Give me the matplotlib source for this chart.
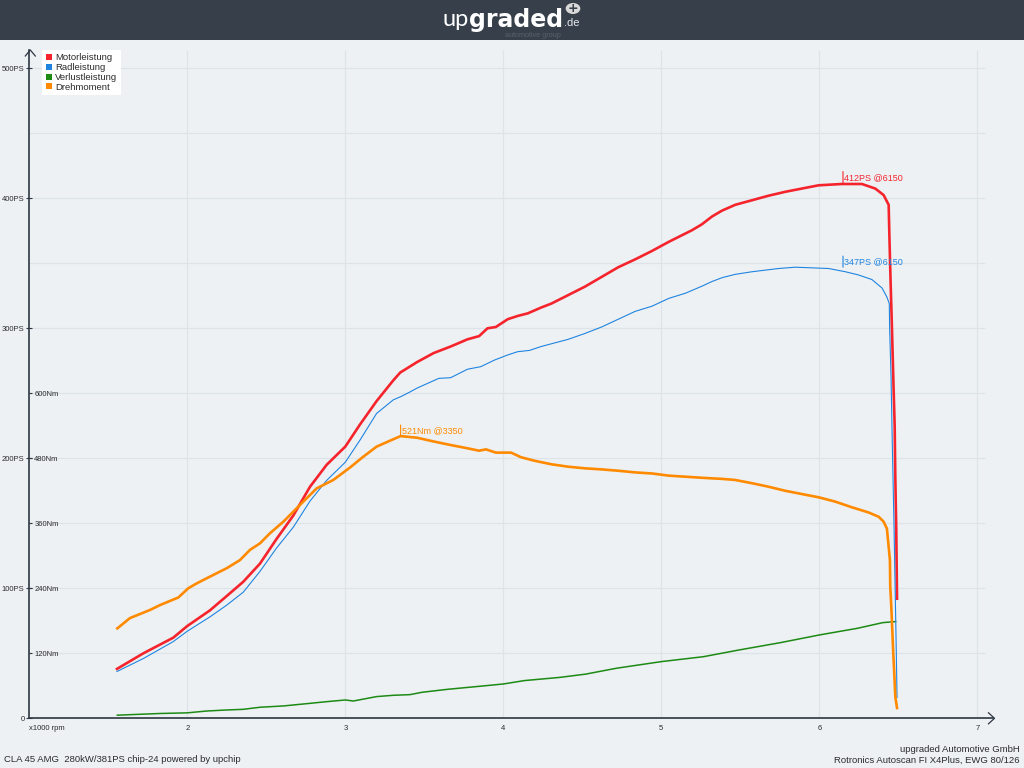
import matplotlib
matplotlib.use("Agg")
import matplotlib.pyplot as plt
from matplotlib.lines import Line2D
from matplotlib.patches import Rectangle, Circle

# ---------------------------------------------------------------- data
motor_rpm = [1555, 1722, 1911, 2000, 2143, 2249, 2354, 2460, 2565, 2671,
             2776, 2882, 3000, 3093, 3198, 3304, 3348, 3454, 3560, 3667,
             3773, 3847, 3900, 3953, 4028, 4091, 4155, 4240, 4304, 4410,
             4516, 4622, 4728, 4834, 4941, 5047, 5195, 5257, 5321, 5384,
             5468, 5574, 5679, 5785, 5890, 5996, 6143, 6270, 6354, 6407,
             6439, 6443, 6451, 6460, 6468, 6477, 6481, 6487, 6492]
motor_ps = [38, 50, 62, 71, 83, 94, 105, 119, 138, 156,
            178, 195, 209, 226, 244, 260, 266, 274, 281, 286,
            291.5, 294, 300, 301, 307, 309.5, 311.5, 316, 319, 325.5,
            332, 339.5, 347, 353, 359.5, 366.5, 375.5, 380, 386, 390.5,
            395, 398.5, 402, 405, 407.5, 410, 411, 411, 407.5, 402.5,
            395, 374, 337, 299, 263, 225, 186, 145, 92]

wheel_rpm = [1555, 1722, 1911, 2000, 2143, 2249, 2354, 2460, 2565, 2671,
             2776, 2882, 3000, 3093, 3198, 3304, 3352, 3409, 3454, 3592,
             3667, 3773, 3858, 3943, 4028, 4091, 4166, 4240, 4410, 4516,
             4622, 4728, 4834, 4941, 5047, 5153, 5259, 5321, 5386, 5468,
             5574, 5743, 5848, 6059, 6165, 6249, 6333, 6397, 6428, 6443,
             6445, 6454, 6460, 6466, 6473, 6480, 6486, 6492]
wheel_ps = [36, 46, 59, 67, 78, 87, 97, 113, 131, 147,
            167, 183, 197, 214, 234.5, 245, 247.5, 251, 254, 261.5,
            262, 268.5, 270.5, 275.5, 279.5, 282, 283, 286, 291.5, 296,
            301, 307, 313, 317, 323, 327, 332.5, 336, 339, 341.5,
            343.5, 346, 347, 346, 343.5, 341, 337.5, 331, 324, 319,
            301, 263, 224, 188, 147, 100, 60, 16]

loss_rpm = [1557, 1827, 2000, 2122, 2249, 2354, 2460, 2608, 2776, 2882,
            3000, 3051, 3198, 3304, 3409, 3485, 3647, 3874, 4000, 4133,
            4360, 4522, 4716, 5000, 5267, 5494, 5754, 6000, 6240, 6402,
            6483]
loss_ps = [2.4, 3.7, 4.2, 5.6, 6.4, 6.9, 8.5, 9.5, 11.5, 12.8,
           14.1, 13.3, 16.7, 17.7, 18.2, 20, 22.3, 24.9, 26.4, 29,
           31.5, 34, 38.5, 43.6, 47.4, 52.6, 58.2, 64.1, 69.2, 73.6,
           74.4]

torque_rpm = [1557, 1637, 1764, 1827, 1943, 2006, 2059, 2143, 2249, 2333,
              2397, 2460, 2523, 2608, 2671, 2734, 2819, 2924, 3030, 3114,
              3198, 3283, 3350, 3454, 3560, 3667, 3773, 3847, 3890, 3953,
              4049, 4112, 4197, 4304, 4410, 4516, 4622, 4728, 4834, 4941,
              5047, 5153, 5259, 5384, 5468, 5574, 5679, 5785, 5890, 5996,
              6101, 6207, 6312, 6376, 6407, 6428, 6447, 6449, 6456, 6462,
              6468, 6475, 6481, 6492]
torque_nm = [166, 185, 200, 209, 223, 240, 249, 261.5, 277, 292,
             311, 323, 341.5, 363, 381.5, 400, 424.5, 440, 463, 483,
             501.5, 512.5, 521, 518, 511, 504.5, 498.5, 494, 496.5, 490.5,
             490.5, 482, 475.5, 469, 464.5, 461.5, 459.5, 457, 454, 452,
             448, 446, 444, 442, 440, 434, 427.5, 420, 414, 408,
             400, 389.5, 380, 372, 363, 350, 292, 244, 204, 163,
             121, 80, 40, 19]

series_names = ["Motorleistung", "Radleistung", "Verlustleistung", "Drehmoment"]
series_colors = ["#f5242c", "#1f84e0", "#1d8a14", "#ff8a00"]

ps_ticks = [0, 100, 200, 300, 400, 500]
ps_tick_labels = ["0", "100PS", "200PS", "300PS", "400PS", "500PS"]
nm_ticks = [120, 240, 360, 480, 600]
nm_tick_labels = ["120Nm", "240Nm", "360Nm", "480Nm", "600Nm"]
rpm_ticks = [1000, 2000, 3000, 4000, 5000, 6000, 7000]
rpm_tick_labels = ["x1000 rpm", "2", "3", "4", "5", "6", "7"]

peak_texts = ["412PS @6150", "347PS @6150", "521Nm @3350"]
peak_rpm = [6150, 6150, 3350]
peak_value = [412, 347, 521]

vehicle_text = "CLA 45 AMG  280kW/381PS chip-24 powered by upchip"
company_text = "upgraded Automotive GmbH"
bench_text = "Rotronics Autoscan FI X4Plus, EWG 80/126"

# ---------------------------------------------------------------- layout
W, H, DPI = 1024, 768, 100
BG = "#edf1f4"
AXIS = "#2e3742"
GRID = "#dde3e8"
TXT = "#2b2b2b"
FONT = ["Liberation Sans", "DejaVu Sans"]

fig = plt.figure(figsize=(W / DPI, H / DPI), dpi=DPI)
fig.patch.set_facecolor(BG)


def fig_box(left, top, width, height):
    return [left / W, 1 - (top + height) / H, width / W, height / H]


def fxy(x, y):
    return x / W, 1 - y / H


# header bar with logo
fig.add_artist(Rectangle((0, 1 - 40 / H), 1, 40 / H, transform=fig.transFigure,
                         facecolor="#363f4a", edgecolor="none", zorder=0))
renderer = fig.canvas.get_renderer()
LOGO_BASE = 26.5
t_up = fig.text(*fxy(442, LOGO_BASE), "up", color="#ffffff", fontsize=17,
                family=["Lato", "DejaVu Sans"], fontweight="normal",
                ha="left", va="baseline")
bb = t_up.get_window_extent(renderer)
t_gr = fig.text(bb.x1 / W + 1 / W, 1 - LOGO_BASE / H, "graded", color="#ffffff",
                fontsize=17, family=["DejaVu Sans"], fontweight="bold",
                ha="left", va="baseline")
bb2 = t_gr.get_window_extent(renderer)
fig.text(bb2.x1 / W + 1 / W, 1 - LOGO_BASE / H, ".de", color="#e8ebee",
         fontsize=8, family=FONT, ha="left", va="baseline")
fig.add_artist(Circle(fxy(573, 8.5), 5.5 / H, transform=fig.transFigure,
                      facecolor="#d9d9d9", edgecolor="none"))
fig.text(*fxy(573, 8.8), "+", color="#363f4a", fontsize=9, fontweight="bold",
         family=["DejaVu Sans"], ha="center", va="center")
fig.text(*fxy(533, 35.5), "automotive group", color="#59636e", fontsize=5.2,
         family=FONT, ha="center", va="center")

# plotting area
ax = fig.add_axes(fig_box(29.3, 50.1, 963.8, 668.2))
ax.set_facecolor("none")
ax.set_xlim(1000, 7100)
ax.set_ylim(0, 514)
ax2 = ax.twinx()
ax2.set_ylim(0, 514 * 2.4)

for s in ["top", "right"]:
    ax.spines[s].set_visible(False)
for s in ["top", "bottom", "left"]:
    ax2.spines[s].set_visible(False)
ax2.spines["right"].set_position(("axes", 0))
ax2.spines["right"].set_visible(False)
for s in ["left", "bottom"]:
    ax.spines[s].set_color(AXIS)
    ax.spines[s].set_linewidth(1.2)

# grid
ax.hlines(range(50, 501, 50), 1000, 7050, color=GRID, lw=0.9, zorder=0)
ax.vlines(rpm_ticks[1:], 0, 514, color=GRID, lw=0.9, zorder=0)

# ticks
ax.set_yticks(ps_ticks)
ax.set_yticklabels(ps_tick_labels)
ax.tick_params(axis="y", direction="inout", length=4.8, width=0.8, color=AXIS,
               labelsize=5.5, labelcolor=TXT, pad=1)
ax.set_xticks(rpm_ticks)
ax.set_xticklabels(rpm_tick_labels)
ax.tick_params(axis="x", direction="out", length=0, labelsize=5.5,
               labelcolor=TXT, pad=5)
ax.get_xticklabels()[0].set_ha("left")
ax2.set_yticks(nm_ticks)
ax2.set_yticklabels(nm_tick_labels)
ax2.tick_params(axis="y", direction="out", length=2, width=0.8, color=AXIS,
                labelsize=5.5, labelcolor=TXT, pad=1.5)
for lab in ax.get_xticklabels() + ax.get_yticklabels() + ax2.get_yticklabels():
    lab.set_family(FONT)

# axis arrow heads
for xs, ys in [([25.3, 30.3, 35.3], [56, 50, 56]),
               ([988.5, 994.5, 988.5], [712.8, 718.3, 723.8])]:
    fig.add_artist(Line2D([x / W for x in xs], [1 - y / H for y in ys],
                          transform=fig.transFigure, color=AXIS, lw=0.9))

# curves
ax.plot(motor_rpm, motor_ps, color=series_colors[0], lw=1.9, zorder=3)
ax.plot(wheel_rpm, wheel_ps, color=series_colors[1], lw=0.8, zorder=4)
ax.plot(loss_rpm, loss_ps, color=series_colors[2], lw=1.1, zorder=3)
ax2.plot(torque_rpm, torque_nm, color=series_colors[3], lw=1.9, zorder=3)

# peak markers
peak_axes = [ax, ax, ax2]
peak_colors = [series_colors[0], series_colors[1], series_colors[3]]
for text, r, v, a, c in zip(peak_texts, peak_rpm, peak_value, peak_axes, peak_colors):
    a.annotate("", xy=(r, v), xytext=(0, 8), textcoords="offset points",
               arrowprops=dict(arrowstyle="-", color=c, lw=0.8,
                               shrinkA=0, shrinkB=0))
    a.annotate(text, xy=(r, v), xytext=(1, 0.5), textcoords="offset points",
               color=c, fontsize=6.5, family=FONT, ha="left", va="bottom")

# legend
handles = [Line2D([], [], ls="", marker="s", markersize=4.6, color=c,
                  markeredgewidth=0) for c in series_colors]
leg = ax.legend(handles, series_names, loc="upper left",
                bbox_to_anchor=fxy(42, 50), bbox_transform=fig.transFigure,
                borderaxespad=0, frameon=True, fancybox=False,
                facecolor="white", edgecolor="none", framealpha=1,
                prop={"family": FONT, "size": 6.8}, handlelength=0.7,
                handletextpad=0.35, labelspacing=0.08, borderpad=0.35)
leg.set_zorder(10)
for t in leg.get_texts():
    t.set_color(TXT)

# footer
fig.text(*fxy(4, 760), vehicle_text, fontsize=6.8, family=FONT, color=TXT,
         ha="left", va="center")
fig.text(*fxy(1020, 750), company_text, fontsize=6.8, family=FONT, color=TXT,
         ha="right", va="center")
fig.text(*fxy(1020, 760), bench_text, fontsize=6.8, family=FONT, color=TXT,
         ha="right", va="center")

fig.savefig("out.png", dpi=DPI, facecolor=fig.get_facecolor())
